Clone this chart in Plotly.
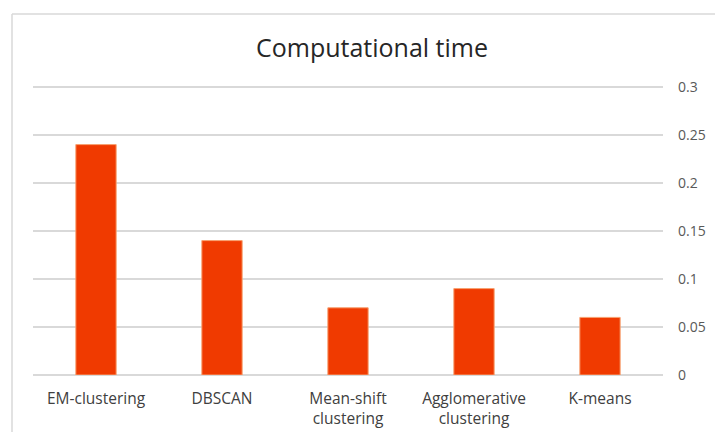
import plotly.graph_objects as go

categories = ["EM-clustering", "DBSCAN", "Mean-shift<br>clustering", "Agglomerative<br>clustering", "K-means"]
times = [0.24, 0.14, 0.07, 0.09, 0.06]
tick_vals = [0, 0.05, 0.1, 0.15, 0.2, 0.25, 0.3]
tick_text = ["0", "0.05", "0.1", "0.15", "0.2", "0.25", "0.3"]
y_range = [0, 0.30208]

W, H = 715, 432
L, R, T, B = 33, 52, 85, 57
pw, ph = W - L - R, H - T - B

fig = go.Figure(go.Bar(
    x=categories, y=times,
    marker=dict(color="#F03A00", line=dict(color="#F7A070", width=1)),
    width=0.32,
))

bx = (12 - L) / pw
by = (H - B - 14) / ph

fig.update_layout(
    width=W, height=H,
    margin=dict(l=L, r=R, t=T, b=B, autoexpand=False),
    paper_bgcolor="white", plot_bgcolor="white",
    showlegend=False,
    title=dict(text="Computational time", x=372 / W, xanchor="center",
               y=1 - 48 / H, yanchor="middle",
               font=dict(family="Open Sans", size=25, color="#262626")),
    font=dict(family="Open Sans", size=15, color="#595959"),
    xaxis=dict(showgrid=False, showline=False, zeroline=False, automargin=False,
               ticks="outside", ticklen=9, tickcolor="rgba(0,0,0,0)",
               tickfont=dict(size=15.5, color="#404040")),
    yaxis=dict(side="right", range=y_range, tickvals=tick_vals, ticktext=tick_text,
               automargin=False,
               showgrid=True, gridcolor="#D9D9D9", gridwidth=1.5,
               zeroline=True, zerolinecolor="#D9D9D9", zerolinewidth=1.5,
               showline=False, ticklabelstandoff=14,
               tickfont=dict(size=14, color="#595959")),
    shapes=[
        dict(type="line", xref="paper", yref="paper", x0=bx, x1=bx, y0=by, y1=-1,
             line=dict(color="#D9D9D9", width=1.5)),
        dict(type="line", xref="paper", yref="paper", x0=bx, x1=2, y0=by, y1=by,
             line=dict(color="#D9D9D9", width=1.5)),
    ],
)

fig.write_html("out.html", config={"displayModeBar": False},
               post_script="document.body.style.margin='0';document.body.style.overflow='hidden';")
